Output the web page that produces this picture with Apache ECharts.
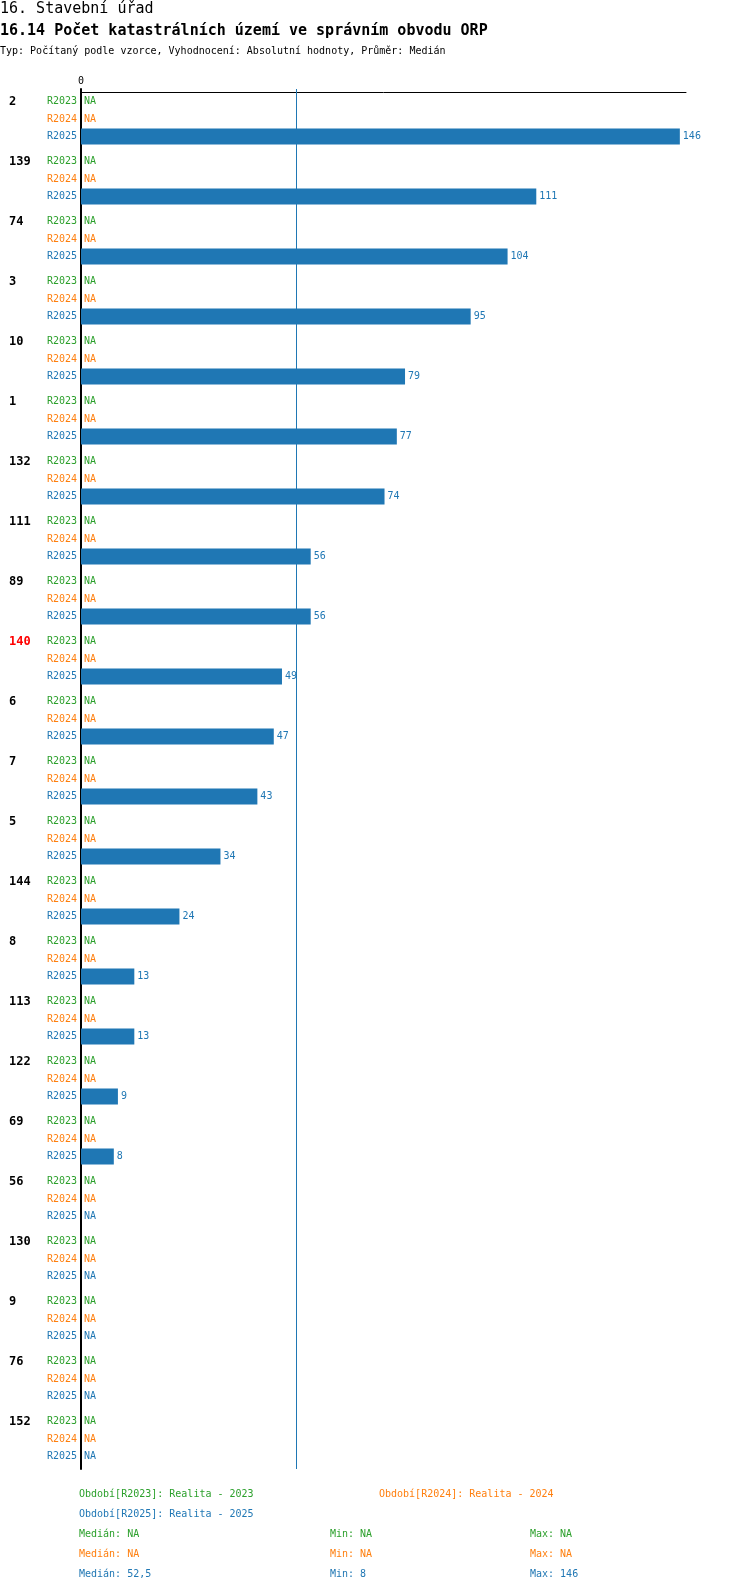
<!DOCTYPE html>
<html>
<head>
<meta charset="utf-8">
<script src="https://cdn.jsdelivr.net/npm/echarts@6/dist/echarts.min.js"></script>
<style>
  html, body { margin: 0; padding: 0; background: #fff; }
  #chart { width: 750px; height: 1592px; }
</style>
</head>
<body>
<div id="chart"></div>
<script>
// data
var groups = ['2', '139', '74', '3', '10', '1', '132', '111', '89', '140', '6', '7', '5', '144', '8', '113', '122', '69', '56', '130', '9', '76', '152'];
var highlighted = '140';
var periods = ['R2023', 'R2024', 'R2025'];
var periodNames = ['Realita - 2023', 'Realita - 2024', 'Realita - 2025'];
var colors = ['#2ca02c', '#ff7f0e', '#1f77b4'];
var r2023 = [null, null, null, null, null, null, null, null, null, null, null, null, null, null, null, null, null, null, null, null, null, null, null];
var r2024 = [null, null, null, null, null, null, null, null, null, null, null, null, null, null, null, null, null, null, null, null, null, null, null];
var r2025 = [146, 111, 104, 95, 79, 77, 74, 56, 56, 49, 47, 43, 34, 24, 13, 13, 9, 8, null, null, null, null, null];
var values = [r2023, r2024, r2025];

var FONT = '"DejaVu Sans Mono", monospace';

// median / min / max of the non-empty values
var stats = function (arr) {
  var v = arr.filter(function (x) { return x != null; }).sort(function (a, b) { return a - b; });
  if (!v.length) return null;
  var m = v.length % 2 ? v[(v.length - 1) / 2] : (v[v.length / 2 - 1] + v[v.length / 2]) / 2;
  return { median: m, min: v[0], max: v[v.length - 1] };
};
var fmt = function (n) { return n == null ? 'NA' : String(n).replace('.', ','); };

var series = [];
periods.forEach(function (p, i) {
  var s = stats(values[i]);
  var bar = {
    name: p,
    type: 'bar',
    yAxisIndex: 0,
    barWidth: 16,
    barGap: '10%',
    itemStyle: { color: colors[i] },
    label: { show: true, position: 'right', distance: 3, color: colors[i], fontFamily: FONT, fontSize: 10 },
    data: values[i].map(function (v) {
      return v == null ? { value: 0, label: { formatter: 'NA' } } : v;
    })
  };
  if (s) {
    bar.markLine = {
      silent: true,
      symbol: ['none', 'none'],
      label: { show: false },
      lineStyle: { color: colors[i], width: 1, type: 'solid' },
      data: [{ xAxis: s.median }]
    };
  }
  series.push(bar);
  // row names left of the axis
  series.push({
    type: 'bar',
    yAxisIndex: 1,
    silent: true,
    barWidth: 16,
    barGap: '10%',
    itemStyle: { color: 'rgba(0,0,0,0)' },
    label: { show: true, position: 'left', distance: 4, formatter: p, color: colors[i], fontFamily: FONT, fontSize: 10 },
    data: groups.map(function () { return 0; })
  });
});

// header and footer texts
var texts = [
  { left: 0, top: 9.5, text: '16. Stavební úřad', fill: '#000', size: 15, weight: 'normal' },
  { left: 0, top: 31, text: '16.14 Počet katastrálních území ve správním obvodu ORP', fill: '#000', size: 15, weight: 'bold' },
  { left: 0, top: 51.5, text: 'Typ: Počítaný podle vzorce, Vyhodnocení: Absolutní hodnoty, Průměr: Medián', fill: '#000', size: 10, weight: 'normal' },
  { left: 79, top: 1494.5, text: 'Období[' + periods[0] + ']: ' + periodNames[0], fill: colors[0], size: 10, weight: 'normal' },
  { left: 379, top: 1494.5, text: 'Období[' + periods[1] + ']: ' + periodNames[1], fill: colors[1], size: 10, weight: 'normal' },
  { left: 79, top: 1514, text: 'Období[' + periods[2] + ']: ' + periodNames[2], fill: colors[2], size: 10, weight: 'normal' }
];
periods.forEach(function (p, i) {
  var s = stats(values[i]) || {};
  var y = 1534 + i * 20;
  texts.push({ left: 79, top: y, text: 'Medián: ' + fmt(s.median), fill: colors[i], size: 10, weight: 'normal' });
  texts.push({ left: 330, top: y, text: 'Min: ' + fmt(s.min), fill: colors[i], size: 10, weight: 'normal' });
  texts.push({ left: 530, top: y, text: 'Max: ' + fmt(s.max), fill: colors[i], size: 10, weight: 'normal' });
});

var myChart = echarts.init(document.getElementById('chart'));
var option = {
  animation: false,
  backgroundColor: '#fff',
  grid: { left: 81, right: 64, top: 89, height: 1380 },
  xAxis: {
    type: 'value',
    position: 'top',
    min: 0,
    max: 147.5,
    offset: -3,
    axisLine: { show: true, lineStyle: { color: '#000', width: 1 } },
    axisTick: { show: false },
    splitLine: { show: false },
    axisLabel: {
      margin: 6,
      color: '#000',
      fontFamily: FONT,
      fontSize: 10,
      formatter: function (v) { return v === 0 ? '0' : ''; }
    }
  },
  yAxis: [
    {
      type: 'category',
      data: groups,
      inverse: true,
      axisLine: { show: true, lineStyle: { color: '#000', width: 2 } },
      axisTick: { show: false },
      axisLabel: {
        align: 'left',
        margin: 72,
        padding: [0, 0, 35, 0],
        color: '#000',
        fontFamily: FONT,
        fontSize: 12,
        fontWeight: 'bold',
        formatter: function (v) { return v === highlighted ? '{hl|' + v + '}' : v; },
        rich: { hl: { color: '#ff0000', fontFamily: FONT, fontSize: 12, fontWeight: 'bold' } }
      }
    },
    { type: 'category', data: groups, inverse: true, show: false }
  ],
  graphic: texts.map(function (t) {
    return {
      type: 'text',
      x: t.left,
      y: t.top,
      style: {
        text: t.text,
        fill: t.fill,
        font: t.weight + ' ' + t.size + 'px ' + FONT,
        verticalAlign: 'middle'
      }
    };
  }),
  series: series
};
myChart.setOption(option);
window.onresize = myChart.resize;
</script>
</body>
</html>
